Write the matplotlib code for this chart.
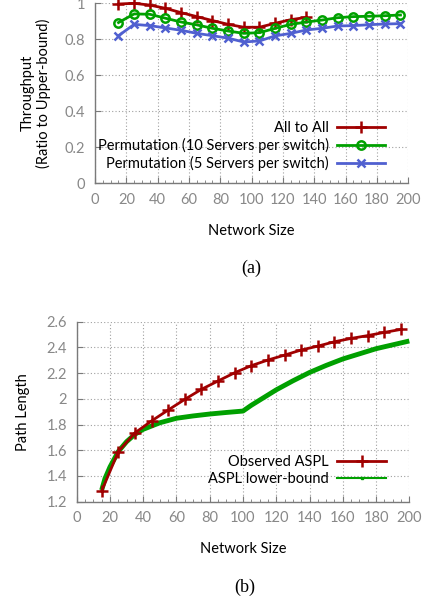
import numpy as np
import matplotlib
matplotlib.use("Agg")
import matplotlib.pyplot as plt
from matplotlib.lines import Line2D
from matplotlib.ticker import MultipleLocator, FuncFormatter

plt.rcParams['font.family'] = ['Lato', 'DejaVu Sans']

# (a) throughput vs network size
size_a = [15, 25, 35, 45, 55, 65, 75, 85, 95, 105, 115, 125, 135,
          145, 155, 165, 175, 185, 195]
all_to_all = [0.996, 1.0, 0.99, 0.972, 0.948, 0.926, 0.904, 0.883, 0.867,
              0.867, 0.889, 0.909, 0.922]
perm10 = [0.893, 0.941, 0.939, 0.917, 0.896, 0.88, 0.861, 0.846, 0.833,
          0.837, 0.861, 0.883, 0.896, 0.907, 0.92, 0.926, 0.928, 0.931, 0.935]
perm5 = [0.82, 0.883, 0.876, 0.863, 0.85, 0.833, 0.82, 0.806, 0.785,
         0.791, 0.819, 0.833, 0.852, 0.861, 0.874, 0.876, 0.881, 0.885, 0.887]

# (b) path length vs network size
size_b = [15, 25, 35, 45, 55, 65, 75, 85, 95, 105, 115, 125, 135,
          145, 155, 165, 175, 185, 195]
aspl = [1.283, 1.589, 1.735, 1.828, 1.913, 1.996, 2.074, 2.139, 2.203,
        2.258, 2.302, 2.34, 2.38, 2.41, 2.444, 2.47, 2.492, 2.517, 2.54]
lb_size = [15, 17, 20, 25, 30, 35, 40, 50, 60, 70, 80, 90, 100,
           105, 110, 120, 130, 140, 150, 160, 170, 180, 190, 200]
lb_aspl = [1.29, 1.38, 1.47, 1.59, 1.667, 1.724, 1.763, 1.814, 1.849, 1.867,
           1.882, 1.894, 1.905, 1.95, 1.99, 2.07, 2.14, 2.205, 2.26, 2.31,
           2.35, 2.39, 2.42, 2.45]

RED = '#a00000'
GREEN = '#00a000'
BLUE = '#5060d0'
GREY = '#7a7a7a'
FS = 10.5

fig = plt.figure(figsize=(4.27, 6.0), dpi=100)
ax1 = fig.add_axes([95 / 427, 1 - 183.3 / 600, 313.3 / 427, 180 / 600])
ax2 = fig.add_axes([76.7 / 427, 1 - 501.7 / 600, 332.6 / 427, 180 / 600])


def style(ax):
    for s in ['top', 'right']:
        ax.spines[s].set_visible(False)
    for s in ['left', 'bottom']:
        ax.spines[s].set_color(GREY)
        ax.spines[s].set_linewidth(1.0)
    ax.grid(True, linestyle=(0, (1, 2)), color='#a0a0a0', linewidth=0.8)
    ax.tick_params(direction='in', colors=GREY, labelsize=FS, length=4,
                   labelcolor='#888888', pad=7)
    ax.tick_params(which='minor', direction='in', length=2, colors=GREY)
    ax.set_xticks(np.arange(0, 201, 20))
    ax.xaxis.set_minor_locator(MultipleLocator(5))
    ax.set_xlim(0, 200)
    ax.set_xlabel('Network Size', fontsize=FS, labelpad=12)
    ax.yaxis.set_major_formatter(FuncFormatter(lambda v, p: '%g' % round(v, 2)))


style(ax1)
ax1.plot(size_a[:len(all_to_all)], all_to_all, color=RED, lw=2, marker='+',
         ms=8, mew=1.8, label='All to All', clip_on=False)
ax1.plot(size_a, perm10, color=GREEN, lw=2, marker='o', ms=6, mew=1.8,
         mfc='none', label='Permutation (10 Servers per switch)', clip_on=False)
ax1.plot(size_a, perm5, color=BLUE, lw=2, marker='x', ms=6, mew=1.8,
         label='Permutation (5 Servers per switch)', clip_on=False)
ax1.set_ylim(0, 1)
ax1.set_yticks(np.arange(0, 1.01, 0.2))
ax1.set_ylabel('Throughput\n(Ratio to Upper-bound)', fontsize=FS,
               labelpad=10, linespacing=1.1)
ax1.legend(loc='lower right', bbox_to_anchor=(0.955, 0.02),
           frameon=False, markerfirst=False, fontsize=FS,
           handlelength=3.3, handletextpad=0.6, labelspacing=0.2,
           borderaxespad=0.2)

style(ax2)
ax2.plot(size_b, aspl, color=RED, lw=2, marker='+', ms=8, mew=1.8,
         zorder=3, clip_on=False)
ax2.plot(lb_size, lb_aspl, color=GREEN, lw=3.5, zorder=2,
         solid_capstyle='butt', clip_on=False)
ax2.set_ylim(1.2, 2.6)
ax2.set_yticks(np.arange(1.2, 2.61, 0.2))
ax2.set_ylabel('Path Length', fontsize=FS, labelpad=12)
handles = [Line2D([], [], color=RED, lw=2, marker='+', ms=8, mew=1.8),
           Line2D([], [], color=GREEN, lw=1.5, marker='s', ms=2)]
ax2.legend(handles, ['Observed ASPL', 'ASPL lower-bound'],
           loc='lower right', bbox_to_anchor=(0.955, 0.04),
           frameon=False, markerfirst=False, fontsize=FS,
           handlelength=3.3, handletextpad=0.6, labelspacing=0.2,
           borderaxespad=0.2)

fig.text(0.5 * (95 + 408) / 427, 1 - 268 / 600, '(a)', ha='center',
         va='center', family='Liberation Serif', fontsize=13)
fig.text(0.5 * (76.7 + 409) / 427 + 0.005, 1 - 587 / 600, '(b)', ha='center',
         va='center', family='Liberation Serif', fontsize=13)

fig.savefig('out.png', dpi=100)
